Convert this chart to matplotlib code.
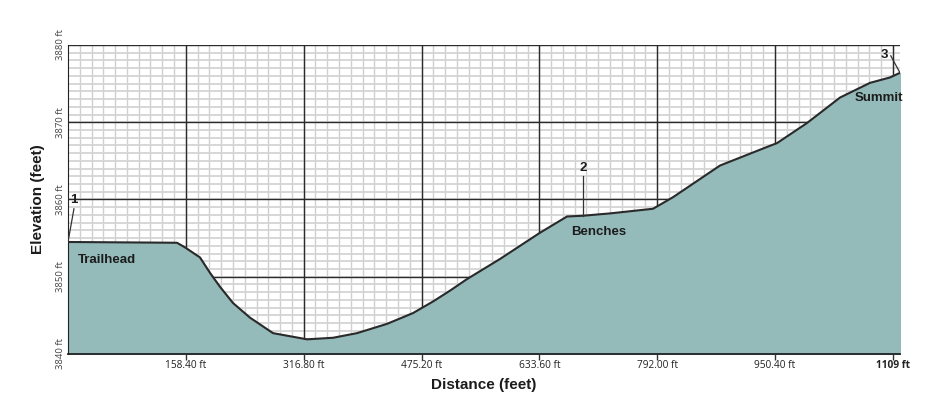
import numpy as np
import matplotlib
matplotlib.use("Agg")
import matplotlib.pyplot as plt
from matplotlib.ticker import FixedLocator

# elevation profile
distance_ft = [0, 146.5, 157.3, 177.4, 190.9, 204.3, 221.8, 244.7, 275.6, 321.3,
               356.2, 388.5, 428.8, 463.8, 490.7, 513.5, 536.4, 580.7, 634.5,
               670.8, 692.3, 728.6, 786.4, 813.3, 876.5, 939.6, 953.1, 993.4,
               1037.8, 1078.1, 1105.0, 1118.4]
elevation_ft = [3854.5, 3854.4, 3853.8, 3852.5, 3850.5, 3848.7, 3846.6, 3844.7,
                3842.7, 3841.9, 3842.1, 3842.7, 3843.9, 3845.3, 3846.8, 3848.2,
                3849.7, 3852.3, 3855.7, 3857.8, 3857.9, 3858.2, 3858.8, 3860.3,
                3864.4, 3866.8, 3867.3, 3869.9, 3873.2, 3875.1, 3875.8, 3876.4]

x_ticks = [158.4, 316.8, 475.2, 633.6, 792.0, 950.4, 1109]
x_tick_labels = ["158.40 ft", "316.80 ft", "475.20 ft", "633.60 ft",
                 "792.00 ft", "950.40 ft", "1109 ft"]
y_ticks = [3840, 3850, 3860, 3870, 3880]
y_tick_labels = ["3840 ft", "3850 ft", "3860 ft", "3870 ft", "3880 ft"]

fig = plt.figure(figsize=(9.5, 4.03), dpi=100)
ax = fig.add_axes([68 / 950, 1 - 354 / 403, 832 / 950, 309 / 403])
ax.set_xlim(0, 1118.4)
ax.set_ylim(3840, 3880)

# minor grid (light) then major grid (dark)
for xv in np.arange(15.84, 1118.4, 15.84):
    ax.axvline(xv, color="#d0d0d0", lw=1.0, zorder=0)
for yv in range(3841, 3880):
    ax.axhline(yv, color="#d4d4d4", lw=1.3, zorder=0)
for xv in x_ticks:
    ax.axvline(xv, color="#2b2b2b", lw=1.0, zorder=1)
for yv in y_ticks:
    ax.axhline(yv, color="#2b2b2b", lw=1.0, zorder=1)

ax.fill_between(distance_ft, elevation_ft, 3830, color="#94baba", zorder=2)
ax.plot(distance_ft, elevation_ft, color="#2a2a2a", lw=1.5, zorder=3)

# waypoint annotations
lab_font = dict(family="Liberation Sans", fontweight="bold", fontsize=9.5,
                color="#1c1c1c", zorder=5)
ax.plot([0, 8], [3854.5, 3858.8], color="#333333", lw=0.9, zorder=4)
ax.text(8, 3859.2, "1", ha="center", va="bottom", **lab_font)
ax.text(13, 3852.2, "Trailhead", ha="left", va="center", **lab_font)

ax.plot([692.3, 692.3], [3857.9, 3863.0], color="#333333", lw=0.9, zorder=4)
ax.text(692.3, 3863.3, "2", ha="center", va="bottom", **lab_font)
ax.text(676, 3855.8, "Benches", ha="left", va="center", **lab_font)

ax.plot([1118.4, 1106], [3876.4, 3878.6], color="#333333", lw=0.9, zorder=4)
ax.text(1098, 3878.7, "3", ha="center", va="center", **lab_font)
ax.text(1058, 3873.2, "Summit", ha="left", va="center", **lab_font)

ax.xaxis.set_major_locator(FixedLocator(x_ticks))
ax.set_xticklabels(x_tick_labels, family="Open Sans", fontsize=7.3, color="#222222")
ax.get_xticklabels()[-1].set_fontweight("bold")
ax.yaxis.set_major_locator(FixedLocator(y_ticks))
ax.set_yticklabels(y_tick_labels, family="Open Sans", fontsize=6.8,
                   color="#444444", rotation=90, va="center")
ax.tick_params(axis="x", length=4, width=1, color="#333333", pad=0)
ax.tick_params(axis="y", length=0, pad=2)

for side in ["top", "right"]:
    ax.spines[side].set_visible(False)
ax.spines["left"].set_color("#222222")
ax.spines["bottom"].set_color("#222222")
ax.spines["bottom"].set_linewidth(1.3)

ax.set_xlabel("Distance (feet)", family="Liberation Sans", fontweight="bold",
              fontsize=11, color="#1c1c1c", labelpad=5)
ax.set_ylabel("Elevation (feet)", family="Liberation Sans", fontweight="bold",
              fontsize=11, color="#1c1c1c", labelpad=8)

fig.savefig("out.png", dpi=100)
